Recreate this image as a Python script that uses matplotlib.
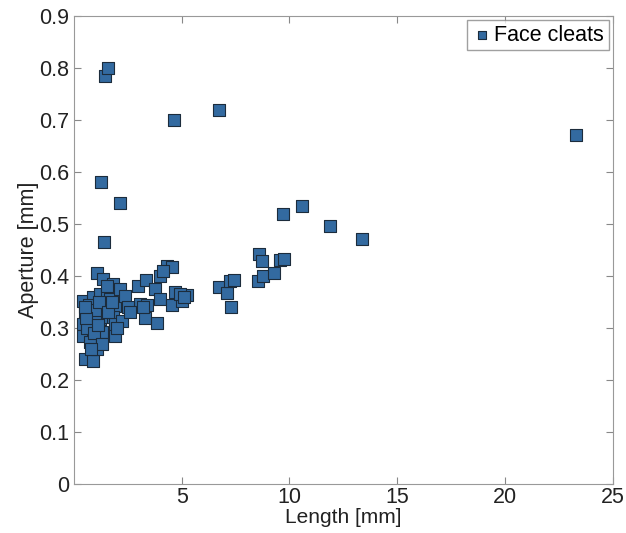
import matplotlib.pyplot as plt

length = [1.44, 1.58, 4.64, 6.73, 23.3, 1.25, 2.13, 1.39,
          9.69, 10.6, 11.9, 13.36, 8.58, 8.72, 9.55, 9.74, 8.53, 8.77, 9.28,
          6.73, 7.1, 7.28, 7.24, 7.42,
          1.05, 1.35, 1.81, 2.97, 3.34, 3.99, 4.31, 4.55, 4.13, 3.76, 4.68, 5.24,
          3.06, 3.39, 3.99, 4.55, 5.0, 3.29, 3.85, 3.2, 4.9, 5.1,
          0.42, 0.51, 0.42, 0.42, 0.51, 0.88, 1.07, 1.07, 1.3, 0.88, 1.21, 1.44,
          1.44, 0.88, 1.21, 1.53, 1.67, 1.9, 1.81, 1.9, 2.23, 1.9, 2.13, 2.37,
          2.5, 1.53, 0.65, 0.74, 0.97, 0.83, 0.6, 0.7, 1.0, 1.15, 1.6, 0.55,
          0.95, 1.3, 2.0, 2.6, 1.75, 0.8, 1.1, 0.5]
aperture = [0.785, 0.80, 0.70, 0.72, 0.672, 0.58, 0.54, 0.465,
            0.52, 0.535, 0.497, 0.472, 0.443, 0.428, 0.43, 0.432, 0.39, 0.40, 0.405,
            0.378, 0.367, 0.34, 0.39, 0.393,
            0.405, 0.395, 0.385, 0.38, 0.393, 0.40, 0.42, 0.417, 0.41, 0.375, 0.37, 0.363,
            0.347, 0.345, 0.355, 0.345, 0.352, 0.32, 0.31, 0.34, 0.365, 0.36,
            0.351, 0.33, 0.307, 0.284, 0.24, 0.237, 0.259, 0.278, 0.292, 0.297, 0.317, 0.322,
            0.34, 0.359, 0.365, 0.361, 0.355, 0.342, 0.322, 0.307, 0.313, 0.284, 0.374, 0.361,
            0.34, 0.38, 0.317, 0.273, 0.322, 0.342, 0.30, 0.345, 0.335, 0.35, 0.33, 0.32,
            0.29, 0.27, 0.30, 0.33, 0.35, 0.26, 0.305, 0.34]

plt.rcParams['font.family'] = ['Liberation Sans', 'DejaVu Sans']

fig = plt.figure(figsize=(6.26, 5.33), dpi=100)
ax = fig.add_axes([0.118, 0.092, 0.861, 0.878])

ax.scatter(length, aperture, marker='s', s=85, c='#336aa0',
           edgecolors='#1c2c3c', linewidths=0.8, label='Face cleats', zorder=3)

ax.set_xlim(0, 25)
ax.set_ylim(0, 0.9)
ax.set_xticks([5, 10, 15, 20, 25])
ax.set_yticks([0, 0.1, 0.2, 0.3, 0.4, 0.5, 0.6, 0.7, 0.8, 0.9])
ax.set_yticklabels(['0', '0.1', '0.2', '0.3', '0.4', '0.5', '0.6', '0.7', '0.8', '0.9'])
ax.tick_params(direction='in', top=True, right=True, length=5, color='#888888',
               labelsize=15.5, labelcolor='#222222')
ax.tick_params(axis='x', pad=2)
for s in ax.spines.values():
    s.set_color('#999999')

ax.set_xlabel('Length [mm]', fontsize=15, color='#222222', labelpad=0)
ax.set_ylabel('Aperture [mm]', fontsize=15.5, color='#222222', labelpad=0)

leg = ax.legend(loc='upper right', fontsize=15.5, handletextpad=0.1, handlelength=1.0,
                borderpad=0.2, fancybox=False, markerscale=0.6, borderaxespad=0.2)
leg.get_frame().set_edgecolor('#888888')

fig.savefig('out.png')
